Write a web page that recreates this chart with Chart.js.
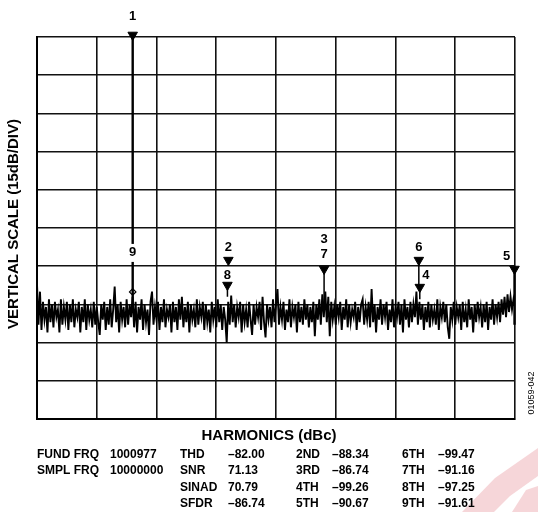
<!DOCTYPE html>
<html>
<head>
<meta charset="utf-8">
<script src="https://cdn.jsdelivr.net/npm/chart.js@4/dist/chart.umd.min.js"></script>
<style>
    html, body { margin: 0; padding: 0; background: #ffffff; }
    #chart { display: block; }
</style>
</head>
<body>
<canvas id="chart" width="538" height="512"></canvas>
<script>
/* Spectrum: 0 to 5 MHz on x, 0 to -150 dB on y (15 dB per division) */

const FREQ_MAX = 5;
const DB_MIN = -150;

/* Noise floor, one value every 5/320 MHz */
const noiseLevels = [
    -97, -113, -100, -115, -104, -111, -106, -116, -103, -112, -105, -114, -104, -110, -107, -116, -103, -113, -106, -111,
    -104, -115, -105, -112, -103, -114, -107, -110, -104, -116, -106, -112, -103, -115, -105, -111, -107, -114, -104, -113,
    -106, -112, -117, -105, -111, -104, -115, -106, -113, -103, -114, -107, -98, -112, -105, -116, -104, -111, -106, -114,
    -103, -113, -105, -110, -102, -114, -104, -116, -106, -111, -103, -115, -105, -112, -107, -117, -104, -100, -113, -106,
    -111, -104, -115, -106, -112, -103, -114, -107, -110, -105, -116, -104, -112, -106, -115, -103, -111, -102, -114, -106,
    -112, -104, -116, -105, -111, -107, -114, -103, -113, -106, -110, -104, -115, -105, -112, -107, -116, -104, -111, -106,
    -114, -103, -112, -105, -115, -106, -111, -120, -104, -113, -101.5, -112, -105, -114, -106, -110, -104, -116, -105, -112,
    -107, -114, -104, -111, -117, -105, -113, -106, -110, -104, -115, -102, -112, -118, -105, -111, -106, -114, -103, -112,
    -105, -99, -113, -106, -111, -104, -115, -107, -112, -103, -114, -106, -110, -105, -116, -104, -112, -106, -113, -103,
    -111, -105, -114, -106, -112, -104, -117.5, -105, -111, -103, -113, -101, -110, -100, -112, -102, -117.5, -104, -111, -106,
    -113, -105, -110, -104, -115, -106, -111, -103, -114, -105, -112, -107, -110, -104, -115, -106, -112, -105, -103, -113,
    -106, -111, -104, -114, -99, -112, -105, -116, -106, -111, -103, -113, -105, -110, -104, -115, -107, -112, -103, -114,
    -106, -110, -104, -113, -105, -116, -103, -111, -106, -114, -104, -112, -105, -110, -100, -113, -104, -111, -105, -115,
    -106, -112, -104, -114, -105, -111, -107, -113, -103, -115, -106, -110, -104, -112, -105, -114, -118.5, -106, -111, -104,
    -113, -106, -110, -105, -115, -104, -112, -107, -114, -103, -111, -106, -116, -105, -112, -104, -110, -106, -114, -105,
    -112, -104, -115, -106, -111, -103, -113, -105, -110, -104, -112, -103, -109, -102, -110, -101, -108, -102, -107, -103,
    -106
];
const noiseStep = FREQ_MAX / (noiseLevels.length - 1);

/* Vertical spikes: fundamental, harmonic stems and the alias at the right edge */
const stemFreqs   = [1.001, 1.992, 3.003, 3.994, 4.004, 4.995];
const stemTops    = [0, -97.4, -91.1, -87.6, -98.2, -91.1];
const stemBottoms = [-106, -102, -104, -98.2, -103, -113];

/* Harmonic markers (down triangles) */
const markerNames  = ["1", "2", "8", "3\n7", "6", "4", "5"];
const markerFreqs  = [1.001, 2.002, 1.992, 3.003, 3.994, 4.004, 4.995];
const markerLevels = [0.8, -87.6, -97.4, -91.1, -87.6, -98.2, -91.1];

/* 9th harmonic marker (diamond) */
const diamondName  = "9";
const diamondFreq  = 1.001;
const diamondLevel = -100.1;

/* Text block below the plot */
const statNames1  = ["FUND FRQ", "SMPL FRQ"];
const statValues1 = ["1000977", "10000000"];
const statNames2  = ["THD", "SNR", "SINAD", "SFDR"];
const statValues2 = ["–82.00", "71.13", "70.79", "–86.74"];
const statNames3  = ["2ND", "3RD", "4TH", "5TH"];
const statValues3 = ["–88.34", "–86.74", "–99.26", "–90.67"];
const statNames4  = ["6TH", "7TH", "8TH", "9TH"];
const statValues4 = ["–99.47", "–91.16", "–97.25", "–91.61"];

const FONT = "Arial, 'Liberation Sans', sans-serif";

function buildDatasets(){
    /* It turns the arrays above into Chart.js datasets */
    const datasets = [];

    datasets.push({
        label: "noise",
        data: noiseLevels.map((v, i) => ({x: i * noiseStep, y: v})),
        borderColor: "#000000",
        borderWidth: 1.9,
        pointRadius: 0,
        tension: 0
    });

    for(let i = 0; i < stemFreqs.length; i++){
        const thick = (i === 0 || i === stemFreqs.length - 1);
        datasets.push({
            label: "stem" + i,
            data: [{x: stemFreqs[i], y: stemTops[i]}, {x: stemFreqs[i], y: stemBottoms[i]}],
            borderColor: "#000000",
            borderWidth: thick ? 2.4 : 1.5,
            pointRadius: 0,
            clip: false
        });
    }

    datasets.push({
        label: "markers",
        data: markerFreqs.map((f, i) => ({x: f, y: markerLevels[i]})),
        showLine: false,
        pointStyle: "triangle",
        rotation: 180,
        pointRadius: 5.5,
        backgroundColor: "#000000",
        borderColor: "#000000",
        borderWidth: 1,
        clip: false
    });

    datasets.push({
        label: "diamond",
        data: [{x: diamondFreq, y: diamondLevel}],
        showLine: false,
        pointStyle: "rectRot",
        pointRadius: 3.2,
        backgroundColor: "#ffffff",
        borderColor: "#000000",
        borderWidth: 1.2
    });

    return datasets;
}

const watermarkPlugin = {
    id: "watermarkPlugin",
    beforeDraw(chart){
        /* faint pink stamp in the bottom right corner of the original scan */
        const ctx = chart.ctx;
        ctx.save();
        ctx.fillStyle = "rgba(226, 120, 130, 0.3)";
        ctx.beginPath();
        ctx.moveTo(462, 512);
        ctx.lineTo(495, 478);
        ctx.lineTo(538, 448);
        ctx.lineTo(538, 476);
        ctx.lineTo(510, 496);
        ctx.lineTo(494, 512);
        ctx.closePath();
        ctx.fill();
        ctx.beginPath();
        ctx.moveTo(512, 512);
        ctx.lineTo(526, 490);
        ctx.lineTo(538, 486);
        ctx.lineTo(538, 512);
        ctx.closePath();
        ctx.fill();
        ctx.restore();
    }
};

const textPlugin = {
    id: "textPlugin",
    afterDraw(chart){
        const ctx = chart.ctx;
        const xs = chart.scales.x;
        const ys = chart.scales.y;

        ctx.save();
        ctx.fillStyle = "#000000";
        ctx.textAlign = "center";
        ctx.textBaseline = "middle";
        ctx.font = "bold 13px " + FONT;

        /* Marker labels, sitting above their triangles */
        for(let i = 0; i < markerNames.length; i++){
            const px = xs.getPixelForValue(markerFreqs[i]);
            const py = ys.getPixelForValue(markerLevels[i]);
            const name = markerNames[i];

            if(name === "3\n7"){
                ctx.fillText("3", px, py - 30);
                ctx.fillText("7", px, py - 15);
            } else if(name === "4"){
                ctx.fillText(name, px + 6, py - 12);
            } else if(name === "5"){
                ctx.fillText(name, px - 8, py - 13);
            } else if(name === "1"){
                ctx.fillText(name, px, py - 19);
            } else if(name === "8"){
                ctx.fillText(name, px, py - 10);
            } else {
                ctx.fillText(name, px, py - 12.5);
            }
        }

        /* "9" breaks the fundamental line */
        const dx = xs.getPixelForValue(diamondFreq);
        const dy = ys.getPixelForValue(diamondLevel) - 39;
        ctx.fillStyle = "#ffffff";
        ctx.fillRect(dx - 5, dy - 9, 10, 18);
        ctx.fillStyle = "#000000";
        ctx.fillText(diamondName, dx, dy);

        /* Axis titles */
        ctx.font = "bold 15px " + FONT;
        ctx.fillText("HARMONICS (dBc)", 269, 436);

        ctx.save();
        ctx.translate(14, 224);
        ctx.rotate(-Math.PI / 2);
        ctx.font = "bold 15px " + FONT;
        ctx.fillText("VERTICAL SCALE (15dB/DIV)", 0, 0);
        ctx.restore();

        ctx.save();
        ctx.translate(532, 393);
        ctx.rotate(-Math.PI / 2);
        ctx.font = "9px " + FONT;
        ctx.fillText("01059-042", 0, 0);
        ctx.restore();

        /* Stats table */
        ctx.textAlign = "left";
        ctx.font = "bold 12px " + FONT;
        const rowY = [455, 471, 488, 504];
        for(let r = 0; r < 4; r++){
            if(r < statNames1.length){
                ctx.fillText(statNames1[r], 37, rowY[r]);
                ctx.fillText(statValues1[r], 110, rowY[r]);
            }
            ctx.fillText(statNames2[r], 180, rowY[r]);
            ctx.fillText(statValues2[r], 228, rowY[r]);
            ctx.fillText(statNames3[r], 296, rowY[r]);
            ctx.fillText(statValues3[r], 332, rowY[r]);
            ctx.fillText(statNames4[r], 402, rowY[r]);
            ctx.fillText(statValues4[r], 438, rowY[r]);
        }

        ctx.restore();
    }
};

const ctx = document.getElementById("chart").getContext("2d");

new Chart(ctx, {
    type: "line",
    data: {
        datasets: buildDatasets()
    },
    options: {
        responsive: false,
        animation: false,
        events: [],
        layout: {
            padding: {left: 37, top: 37, right: 23, bottom: 93}
        },
        plugins: {
            legend: {display: false},
            tooltip: {enabled: false}
        },
        scales: {
            x: {
                type: "linear",
                min: 0,
                max: FREQ_MAX,
                ticks: {display: false, stepSize: FREQ_MAX / 8},
                grid: {color: "#111111", lineWidth: 1.6, drawTicks: false},
                border: {display: true, color: "#000000", width: 2}
            },
            y: {
                type: "linear",
                min: DB_MIN,
                max: 0,
                ticks: {display: false, stepSize: 15},
                grid: {color: "#111111", lineWidth: 1.6, drawTicks: false},
                border: {display: true, color: "#000000", width: 2}
            }
        }
    },
    plugins: [watermarkPlugin, textPlugin]
});
</script>
</body>
</html>
